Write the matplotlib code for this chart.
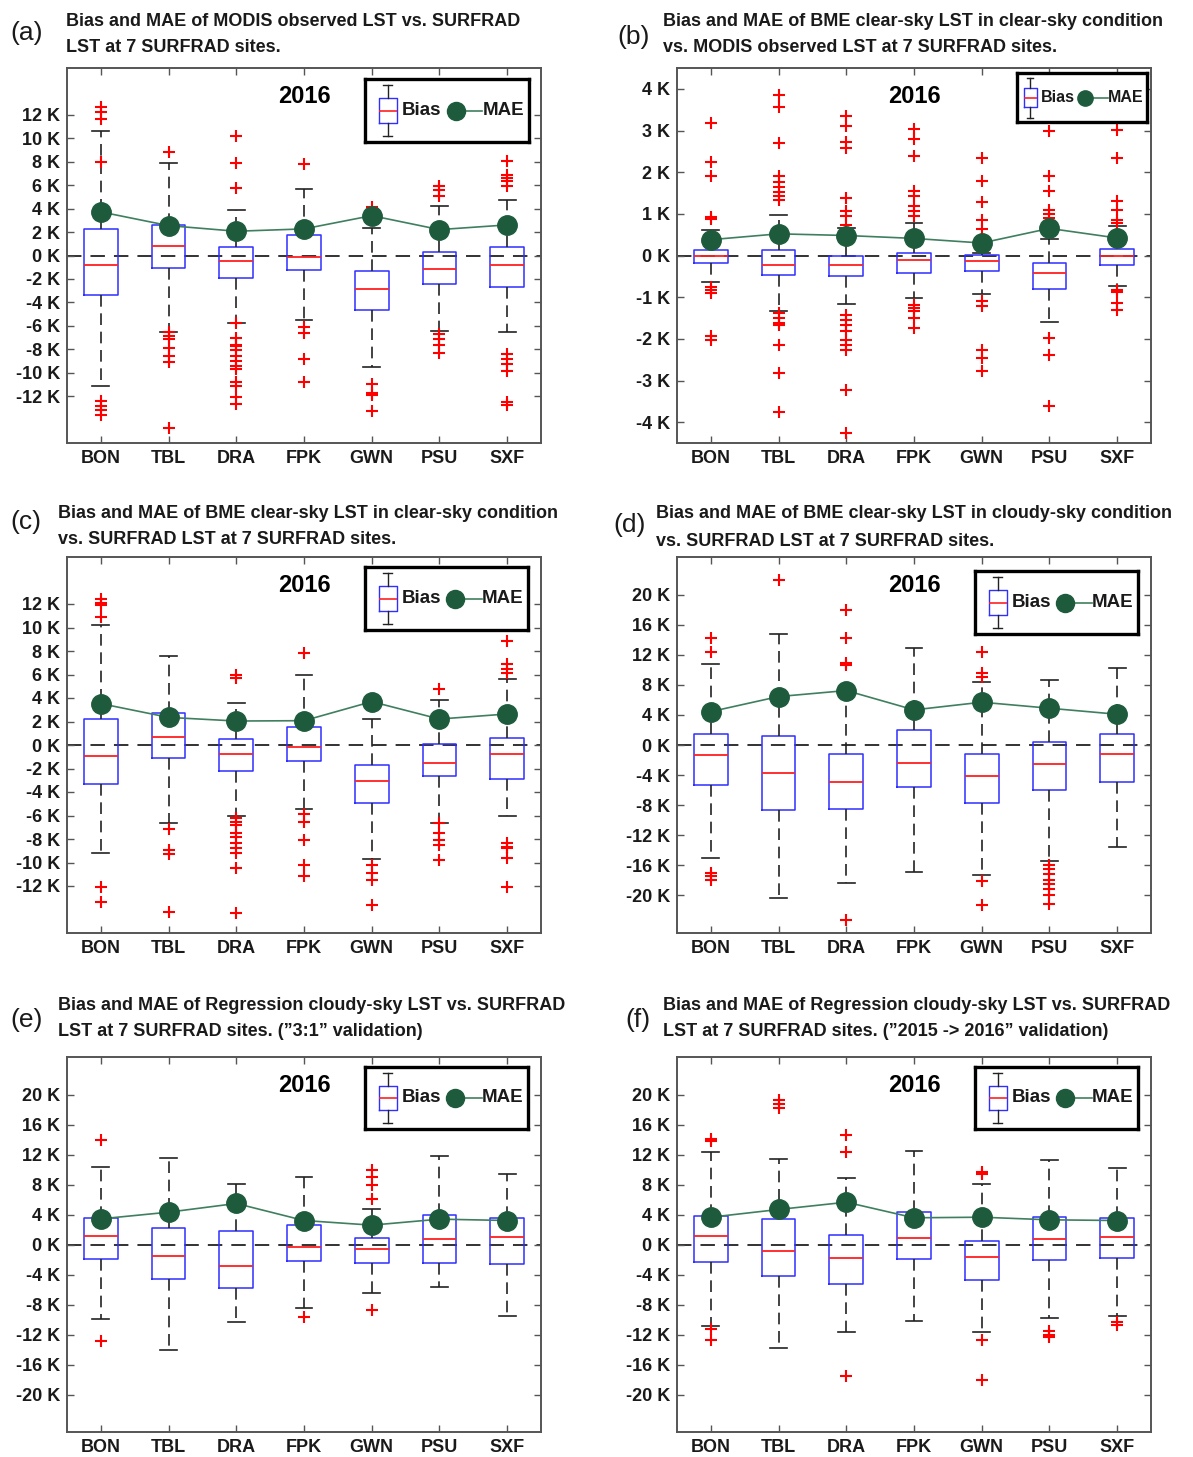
import matplotlib
matplotlib.use("Agg")
import matplotlib.pyplot as plt
from matplotlib.ticker import FuncFormatter

plt.rcParams['font.family'] = ['Liberation Sans', 'DejaVu Sans']

W, H = 1193, 1457
sites = ['BON', 'TBL', 'DRA', 'FPK', 'GWN', 'PSU', 'SXF']

# (a) MODIS observed LST vs SURFRAD
a_q3 = [2.27, 2.58, 0.74, 1.79, -1.36, 0.34, 0.74]
a_med = [-0.82, 0.85, -0.51, -0.11, -2.84, -1.13, -0.82]
a_q1 = [-3.40, -1.05, -1.93, -1.25, -4.68, -2.41, -2.67]
a_hi = [10.64, 7.89, 3.91, 5.67, 2.33, 4.20, 4.77]
a_lo = [-11.12, -6.50, -5.79, -5.50, -9.48, -6.44, -6.50]
a_fliers = [
    [12.65, 12.28, 11.66, 7.94, -12.4, -12.8, -13.2, -13.6],
    [8.8, -6.5, -6.9, -7.15, -7.9, -8.6, -9.1, -14.7],
    [10.16, 7.89, 5.73, -5.8, -7.0, -7.6, -7.7, -8.1, -8.6, -9.0, -9.4, -9.7,
     -10.8, -11.1, -12.1, -12.7],
    [7.83, -6.07, -6.58, -8.8, -10.78],
    [4.14, -10.98, -11.77, -11.9, -13.3],
    [5.96, 5.6, 5.1, -6.7, -7.15, -7.6, -8.35],
    [8.03, 6.9, 6.6, 6.33, 5.9, -8.4, -8.85, -9.28, -9.84, -12.5, -12.77],
]
a_mae = [3.72, 2.55, 2.07, 2.27, 3.40, 2.21, 2.61]

# (b) BME clear-sky LST vs MODIS observed LST
b_q3 = [0.14, 0.14, -0.02, 0.06, 0.02, -0.18, 0.16]
b_med = [0.0, -0.22, -0.23, -0.11, -0.13, -0.43, 0.0]
b_q1 = [-0.19, -0.46, -0.48, -0.42, -0.36, -0.80, -0.22]
b_hi = [0.62, 0.98, 0.66, 0.78, 0.05, 0.40, 0.70]
b_lo = [-0.64, -1.34, -1.17, -1.03, -0.93, -1.59, -0.74]
b_fliers = [
    [3.17, 2.24, 1.9, 0.93, 0.88, -0.75, -0.83, -0.91, -1.94, -2.03],
    [3.86, 3.57, 2.7, 1.9, 1.76, 1.65, 1.52, 1.42, 1.34, -1.38, -1.5, -1.62,
     -1.66, -2.14, -2.82, -3.76],
    [3.34, 3.1, 2.72, 2.58, 1.38, 1.06, 0.94, 0.74, -1.42, -1.54, -1.66, -1.82,
     -2.02, -2.14, -2.26, -3.23, -4.27],
    [3.04, 2.8, 2.38, 1.54, 1.44, 1.18, 1.06, 0.94, -1.18, -1.26, -1.34, -1.5, -1.74],
    [2.34, 1.8, 1.28, 0.86, 0.64, -1.1, -1.22, -2.26, -2.46, -2.78],
    [3.0, 1.92, 1.54, 1.1, 1.0, 0.9, -1.98, -2.38, -3.6],
    [3.02, 2.34, 1.3, 1.1, 0.86, 0.78, -0.82, -0.88, -1.15, -1.3],
]
b_mae = [0.38, 0.52, 0.48, 0.41, 0.30, 0.65, 0.42]

# (c) BME clear-sky LST (clear-sky) vs SURFRAD
c_q3 = [2.24, 2.70, 0.48, 1.56, -1.67, 0.09, 0.57]
c_med = [-0.91, 0.65, -0.79, -0.14, -3.06, -1.50, -0.79]
c_q1 = [-3.32, -1.08, -2.18, -1.33, -4.91, -2.61, -2.90]
c_hi = [10.21, 7.57, 3.60, 5.93, 2.18, 3.83, 5.59]
c_lo = [-9.22, -6.67, -6.04, -5.48, -9.73, -6.61, -6.04]
c_fliers = [
    [12.4, 12.06, 11.9, 10.87, -12.1, -13.4],
    [-7.18, -8.94, -9.28, -14.2],
    [5.93, 5.67, -6.24, -6.52, -6.8, -7.52, -7.8, -8.37, -8.79, -9.22, -10.5, -14.27],
    [7.86, -5.87, -6.52, -8.09, -10.21, -11.15],
    [3.32, -10.2, -10.9, -11.5, -13.6],
    [4.74, -6.67, -7.5, -8.09, -8.5, -9.8],
    [8.88, 6.9, 6.5, 6.1, -8.37, -8.65, -8.79, -9.65, -12.1],
]
c_mae = [3.52, 2.35, 2.04, 2.07, 3.69, 2.21, 2.64]

# (d) BME clear-sky LST (cloudy-sky) vs SURFRAD
d_q3 = [1.47, 1.16, -1.20, 1.96, -1.24, 0.36, 1.51]
d_med = [-1.33, -3.73, -4.98, -2.40, -4.18, -2.53, -1.24]
d_q1 = [-5.29, -8.62, -8.53, -5.64, -7.73, -5.96, -4.89]
d_hi = [10.8, 14.7, 7.4, 12.93, 8.44, 8.58, 10.27]
d_lo = [-14.98, -20.4, -18.3, -16.84, -17.3, -15.4, -13.5]
d_fliers = [
    [14.27, 12.36, -16.98, -17.4, -17.9],
    [22.0],
    [18.0, 14.27, 10.93, 10.58, -23.3],
    [],
    [12.36, 9.56, 9.0, -18.1, -21.3],
    [-15.9, -16.5, -17.2, -17.9, -18.5, -19.2, -20.0, -21.1],
    [],
]
d_mae = [4.44, 6.44, 7.24, 4.67, 5.69, 4.89, 4.09]

# (e) Regression cloudy-sky LST, "3:1" validation
e_q3 = [3.47, 2.22, 1.82, 2.58, 0.89, 3.91, 3.51]
e_med = [1.07, -1.47, -2.84, -0.31, -0.62, 0.80, 0.98]
e_q1 = [-1.87, -4.62, -5.78, -2.22, -2.40, -2.49, -2.58]
e_hi = [10.3, 11.56, 8.09, 8.98, 4.67, 11.82, 9.42]
e_lo = [-9.9, -14.0, -10.36, -8.44, -6.44, -5.69, -9.56]
e_fliers = [
    [14.0, -12.8],
    [],
    [],
    [-9.69],
    [9.91, 8.98, 8.0, 6.13, -8.76],
    [],
    [],
]
e_mae = [3.42, 4.31, 5.47, 3.20, 2.58, 3.38, 3.20]

# (f) Regression cloudy-sky LST, "2015 -> 2016" validation
f_q3 = [3.82, 3.38, 1.24, 4.27, 0.49, 3.69, 3.47]
f_med = [1.07, -0.80, -1.82, 0.84, -1.69, 0.76, 0.98]
f_q1 = [-2.27, -4.18, -5.24, -1.96, -4.71, -2.13, -1.78]
f_hi = [12.36, 11.42, 8.89, 12.53, 8.13, 11.33, 10.22]
f_lo = [-10.93, -13.78, -11.69, -10.22, -11.69, -9.82, -9.47]
f_fliers = [
    [14.13, 13.78, -11.33, -12.67],
    [19.33, 18.76, 18.2],
    [14.58, 12.4, -17.5],
    [],
    [9.69, 9.42, -12.76, -18.0],
    [-11.56, -12.0, -12.36],
    [-10.36, -10.67],
]
f_mae = [3.64, 4.67, 5.64, 3.56, 3.64, 3.29, 3.20]

titles = [
    ("(a)", "Bias and MAE of MODIS observed LST vs. SURFRAD",
     "LST at 7 SURFRAD sites."),
    ("(b)", "Bias and MAE of BME clear-sky LST in clear-sky condition",
     "vs. MODIS observed LST at 7 SURFRAD sites."),
    ("(c)", "Bias and MAE of BME clear-sky LST in clear-sky condition",
     "vs. SURFRAD LST at 7 SURFRAD sites."),
    ("(d)", "Bias and MAE of BME clear-sky LST in cloudy-sky condition",
     "vs. SURFRAD LST at 7 SURFRAD sites."),
    ("(e)", "Bias and MAE of Regression cloudy-sky LST vs. SURFRAD",
     "LST at 7 SURFRAD sites. (\u201d3:1\u201d validation)"),
    ("(f)", "Bias and MAE of Regression cloudy-sky LST vs. SURFRAD",
     "LST at 7 SURFRAD sites. (\u201d2015 -> 2016\u201d validation)"),
]

panels = [
    (a_q1, a_med, a_q3, a_lo, a_hi, a_fliers, a_mae, 16, 2, 6),
    (b_q1, b_med, b_q3, b_lo, b_hi, b_fliers, b_mae, 4.5, 1, 4),
    (c_q1, c_med, c_q3, c_lo, c_hi, c_fliers, c_mae, 16, 2, 6),
    (d_q1, d_med, d_q3, d_lo, d_hi, d_fliers, d_mae, 25, 4, 5),
    (e_q1, e_med, e_q3, e_lo, e_hi, e_fliers, e_mae, 25, 4, 5),
    (f_q1, f_med, f_q3, f_lo, f_hi, f_fliers, f_mae, 25, 4, 5),
]

# pixel layout: axes boxes (left, top, right, bottom)
axes_px = [(67, 68, 541, 443), (677, 68, 1151, 443),
           (67, 557, 541, 933), (677, 557, 1151, 933),
           (67, 1057, 541, 1432), (677, 1057, 1151, 1432)]
legend_px = [(365, 79, 529, 142), (1017, 73, 1147, 122),
             (365, 567, 528, 630), (975, 571, 1138, 634),
             (365, 1067, 528, 1129), (975, 1067, 1138, 1129)]
# title: label x, label y, text x, line1 y, line2 y
title_px = [(10, 33, 66, 22, 48), (617, 37, 663, 22, 48),
            (10, 522, 58, 513, 540), (613, 525, 656, 514, 541),
            (10, 1020, 58, 1005, 1032), (625, 1020, 663, 1005, 1032)]

BLUE = '#2f2fff'
RED = '#ff2020'
GREEN_DOT = '#1e5b3c'
GREEN_LINE = '#3f7f5f'
FRAME = '#555555'
TXT = '#1a1a1a'

box_kw = dict(
    boxprops=dict(color=BLUE, lw=1.1),
    medianprops=dict(color=RED, lw=1.3),
    whiskerprops=dict(color='#222222', lw=1.2, linestyle=(0, (7, 4))),
    capprops=dict(color='#222222', lw=1.2),
    flierprops=dict(marker='+', markeredgecolor='red', markersize=8,
                    markeredgewidth=1.5, linestyle='none'),
)

fig = plt.figure(figsize=(W / 100, H / 100), dpi=100)
pos = list(range(1, 8))

for i, (q1, med, q3, lo, hi, fl, mae, lim, step, n) in enumerate(panels):
    l, t, r, b = axes_px[i]
    ax = fig.add_axes([l / W, 1 - b / H, (r - l) / W, (b - t) / H])

    stats = []
    for k in range(7):
        stats.append(dict(med=med[k], q1=q1[k], q3=q3[k],
                          whislo=lo[k], whishi=hi[k], fliers=fl[k]))
    ax.axhline(0, color='#222222', lw=1.3, dashes=(8, 5), zorder=1)
    ax.bxp(stats, positions=pos, widths=0.5, manage_ticks=False, **box_kw)
    ax.plot(pos, mae, '-', color=GREEN_LINE, lw=1.2, marker='o', ms=14,
            mfc=GREEN_DOT, mec=GREEN_DOT, zorder=6)

    ax.set_xlim(0.5, 7.5)
    ax.set_ylim(-lim, lim)
    ax.set_yticks([step * j for j in range(-n, n + 1)])
    ax.yaxis.set_major_formatter(FuncFormatter(lambda v, p: '%d K' % round(v)))
    ax.set_xticks(pos)
    ax.set_xticklabels(sites)
    ax.tick_params(direction='in', length=5, width=1, color=FRAME,
                   top=True, right=True, labelsize=13, labelcolor=TXT, pad=5)
    for lab in ax.get_xticklabels() + ax.get_yticklabels():
        lab.set_fontweight('bold')
    for s in ax.spines.values():
        s.set_color(FRAME)
        s.set_linewidth(1.4)

    ax.text(0.5, 0.923, '2016', transform=ax.transAxes, ha='center',
            va='center', fontsize=17, fontweight='bold', color='black')

    # legend drawn as a small inset
    ll, lt, lr, lb = legend_px[i]
    lax = ax.inset_axes([(ll - l) / (r - l), (b - lb) / (b - t),
                         (lr - ll) / (r - l), (lb - lt) / (b - t)])
    lax.set_xticks([])
    lax.set_yticks([])
    lax.set_zorder(10)
    for s in lax.spines.values():
        s.set_color('black')
        s.set_linewidth(2.4)
    small = (i == 1)
    ix = 0.10 if small else 0.14
    lax.bxp([dict(med=0.5, q1=0.30, q3=0.70, whislo=0.09, whishi=0.90,
                  fliers=[])], positions=[ix], widths=0.10 if small else 0.11,
            manage_ticks=False,
            boxprops=dict(color=BLUE, lw=1.0), medianprops=dict(color=RED, lw=1.2),
            whiskerprops=dict(color='#222222', lw=1.0),
            capprops=dict(color='#222222', lw=1.0), showfliers=False)
    lax.set_xlim(0, 1)
    lax.set_ylim(0, 1)
    if small:
        lax.text(0.18, 0.5, 'Bias', ha='left', va='center', fontsize=11.5,
                 fontweight='bold', color=TXT)
        lax.plot([0.52, 0.70], [0.5, 0.5], color=GREEN_LINE, lw=1.2)
        lax.plot([0.52], [0.5], 'o', ms=11, color=GREEN_DOT)
        lax.text(0.70, 0.5, 'MAE', ha='left', va='center', fontsize=11.5,
                 fontweight='bold', color=TXT)
    else:
        lax.text(0.225, 0.5, 'Bias', ha='left', va='center', fontsize=13.5,
                 fontweight='bold', color=TXT)
        lax.plot([0.555, 0.715], [0.5, 0.5], color=GREEN_LINE, lw=1.2)
        lax.plot([0.555], [0.5], 'o', ms=13, color=GREEN_DOT)
        lax.text(0.715, 0.5, 'MAE', ha='left', va='center', fontsize=13.5,
                 fontweight='bold', color=TXT)

    # panel label and two-line title
    lx, ly, tx, y1, y2 = title_px[i]
    lab, line1, line2 = titles[i]
    fig.text(lx / W, 1 - ly / H, lab, ha='left', va='center', fontsize=19,
             color=TXT)
    fig.text(tx / W, 1 - y1 / H, line1, ha='left', va='center', fontsize=13,
             fontweight='bold', color=TXT)
    fig.text(tx / W, 1 - y2 / H, line2, ha='left', va='center', fontsize=13,
             fontweight='bold', color=TXT)

fig.savefig('out.png', dpi=100, facecolor='white')
